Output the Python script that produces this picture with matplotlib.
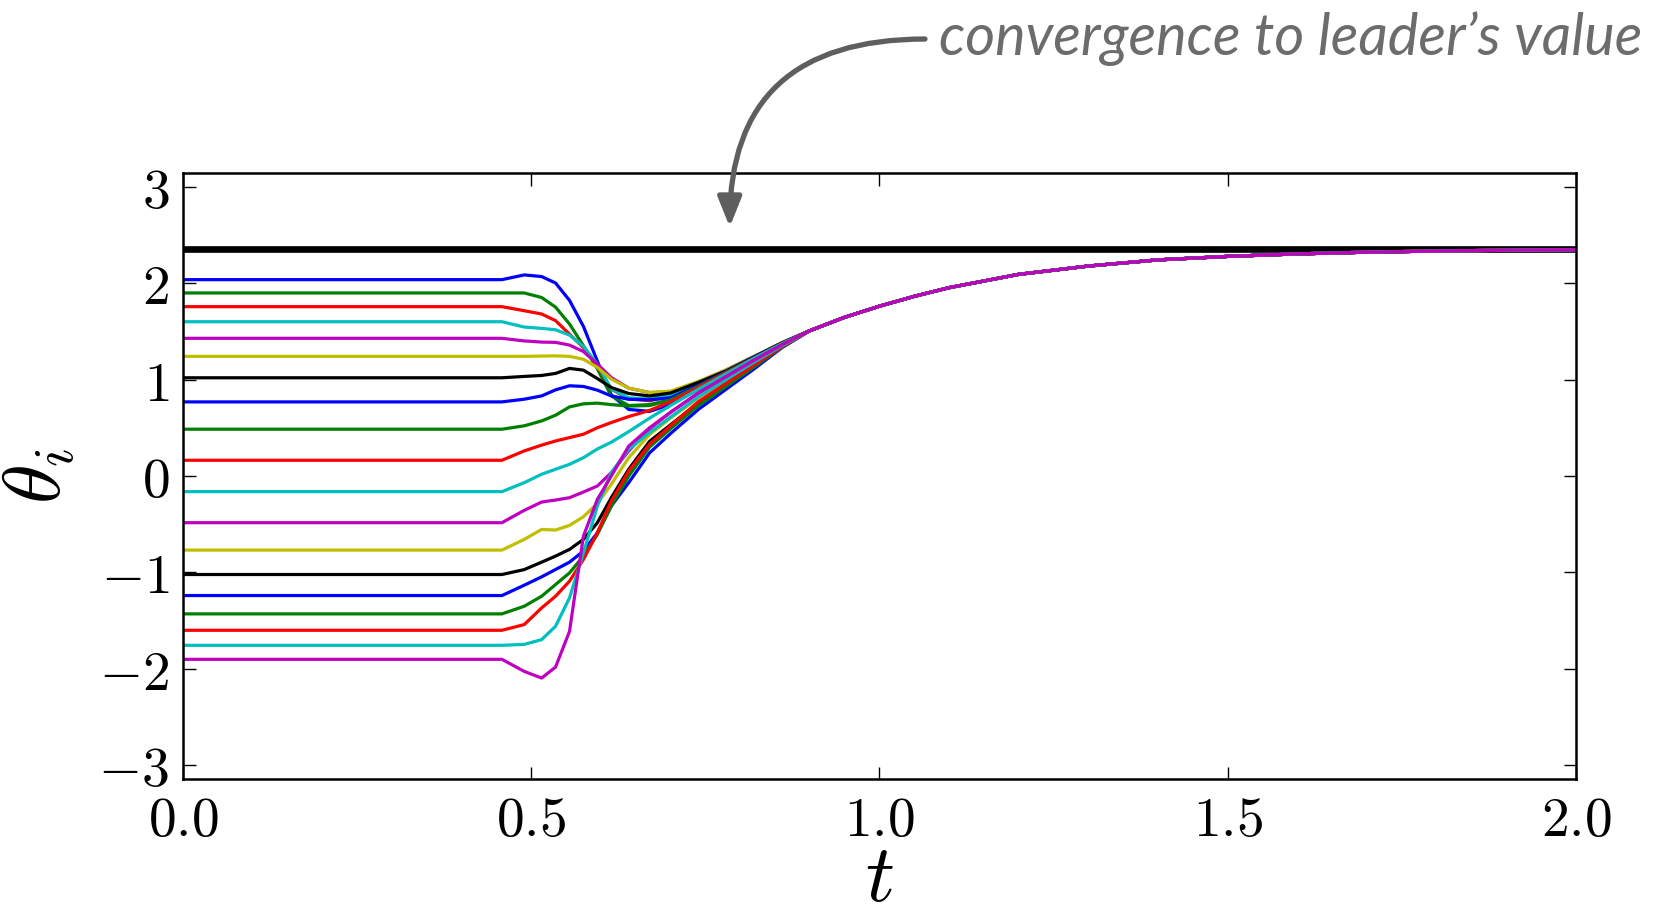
import numpy as np
import matplotlib
matplotlib.use("Agg")
import matplotlib.pyplot as plt

plt.rcParams['mathtext.fontset'] = 'cm'

# ---------------- data ----------------
leader_value = 2.356

# time samples of the transient part (per follower)
t_early = [0.0, 0.458, 0.49, 0.515, 0.535, 0.555, 0.575, 0.595, 0.615,
           0.64, 0.67, 0.70, 0.74, 0.78, 0.82, 0.86]
# time samples of the common tail after consensus
t_tail = [0.90, 0.95, 1.0, 1.05, 1.1, 1.2, 1.3, 1.4, 1.5, 1.6, 1.7, 1.8, 1.9, 2.0]
tail = [1.506, 1.645, 1.76, 1.862, 1.952, 2.09, 2.176, 2.24, 2.276, 2.302,
        2.32, 2.332, 2.34, 2.346]

f01 = [2.035, 2.035, 2.084, 2.067, 2.0, 1.82, 1.55, 1.19, 0.84, 0.69, 0.67, 0.74, 0.90, 1.06, 1.22, 1.37]
f02 = [1.897, 1.897, 1.897, 1.85, 1.75, 1.575, 1.35, 1.11, 0.83, 0.73, 0.74, 0.79, 0.93, 1.075, 1.225, 1.375]
f03 = [1.755, 1.755, 1.713, 1.679, 1.61, 1.47, 1.33, 1.142, 0.90, 0.80, 0.78, 0.83, 0.955, 1.085, 1.23, 1.38]
f04 = [1.599, 1.599, 1.544, 1.53, 1.516, 1.46, 1.343, 1.16, 0.90, 0.81, 0.80, 0.84, 0.96, 1.09, 1.23, 1.38]
f05 = [1.427, 1.427, 1.40, 1.388, 1.385, 1.357, 1.29, 1.16, 1.02, 0.91, 0.865, 0.87, 0.975, 1.10, 1.24, 1.38]
f06 = [1.240, 1.240, 1.240, 1.243, 1.245, 1.24, 1.21, 1.125, 1.004, 0.91, 0.865, 0.88, 0.98, 1.10, 1.24, 1.38]
f07 = [1.018, 1.018, 1.032, 1.042, 1.063, 1.115, 1.097, 1.01, 0.917, 0.855, 0.83, 0.86, 0.97, 1.09, 1.235, 1.38]
f08 = [0.768, 0.768, 0.796, 0.83, 0.893, 0.935, 0.928, 0.89, 0.83, 0.795, 0.79, 0.81, 0.94, 1.08, 1.23, 1.375]
f09 = [0.485, 0.485, 0.52, 0.571, 0.63, 0.716, 0.748, 0.755, 0.74, 0.725, 0.73, 0.79, 0.93, 1.075, 1.225, 1.375]
f10 = [0.163, 0.163, 0.26, 0.32, 0.363, 0.398, 0.433, 0.50, 0.554, 0.616, 0.68, 0.77, 0.92, 1.07, 1.22, 1.37]
f11 = [-0.162, -0.162, -0.069, 0.018, 0.07, 0.121, 0.19, 0.28, 0.35, 0.46, 0.60, 0.73, 0.90, 1.06, 1.22, 1.37]
f12 = [-0.484, -0.484, -0.356, -0.27, -0.249, -0.225, -0.166, -0.104, 0.035, 0.26, 0.49, 0.66, 0.86, 1.03, 1.20, 1.36]
f13 = [-0.768, -0.768, -0.657, -0.554, -0.56, -0.512, -0.422, -0.284, -0.086, 0.19, 0.43, 0.60, 0.81, 0.99, 1.17, 1.35]
f14 = [-1.021, -1.021, -0.97, -0.893, -0.83, -0.761, -0.657, -0.484, -0.225, 0.07, 0.36, 0.53, 0.76, 0.96, 1.15, 1.34]
f15 = [-1.239, -1.239, -1.132, -1.045, -0.969, -0.893, -0.778, -0.588, -0.311, -0.069, 0.24, 0.44, 0.69, 0.90, 1.11, 1.33]
f16 = [-1.429, -1.429, -1.35, -1.246, -1.125, -1.004, -0.83, -0.605, -0.311, 0.0, 0.30, 0.49, 0.73, 0.93, 1.13, 1.335]
f17 = [-1.599, -1.599, -1.54, -1.367, -1.246, -1.09, -0.865, -0.588, -0.26, 0.052, 0.33, 0.52, 0.77, 0.96, 1.15, 1.34]
f18 = [-1.755, -1.755, -1.745, -1.696, -1.557, -1.263, -0.796, -0.311, 0.035, 0.277, 0.45, 0.61, 0.82, 1.00, 1.18, 1.35]
f19 = [-1.900, -1.900, -2.025, -2.094, -1.98, -1.61, -0.623, -0.242, 0.0, 0.31, 0.50, 0.66, 0.86, 1.03, 1.20, 1.36]

followers = [f01, f02, f03, f04, f05, f06, f07, f08, f09, f10,
             f11, f12, f13, f14, f15, f16, f17, f18, f19]
colors = ['b', 'g', 'r', 'c', 'm', 'y', 'k']

xticks = [0.0, 0.5, 1.0, 1.5, 2.0]
xtick_labels = ['0.0', '0.5', '1.0', '1.5', '2.0']
yticks = [-3, -2, -1, 0, 1, 2, 3]
ytick_labels = ['-3', '-2', '-1', '0', '1', '2', '3']
annotation_text = 'convergence to leader\u2019s value'

# ---------------- figure ----------------
fig = plt.figure(figsize=(16.63, 9.16), dpi=100)
ax = fig.add_axes([0.110, 0.1496, 0.8377, 0.6615])

t_all = t_early + t_tail
ax.plot([0.0, 2.0], [leader_value, leader_value], color='k', lw=4.8,
        solid_capstyle='butt', zorder=1)
for i, f in enumerate(followers):
    ax.plot(t_all, f + tail, color=colors[i % len(colors)], lw=2.3,
            solid_joinstyle='round', zorder=2)

ax.set_xlim(0, 2)
ax.set_ylim(-3.14, 3.14)
ax.set_xticks(xticks)
ax.set_xticklabels(['$%s$' % s for s in xtick_labels], fontsize=40)
ax.set_yticks(yticks)
ax.set_yticklabels(['$%s$' % s for s in ytick_labels], fontsize=40)
ax.tick_params(direction='in', top=True, right=True, length=9, width=1.0)
ax.tick_params(axis='x', pad=11)
ax.tick_params(axis='y', pad=10)
for sp in ax.spines.values():
    sp.set_linewidth(1.8)

ax.set_xlabel(r'$t$', fontsize=58)
ax.set_ylabel(r'$\theta_i$', fontsize=58)
ax.xaxis.set_label_coords(0.5, -0.1)
ax.yaxis.set_label_coords(-0.076, 0.5)

fig.text(939 / 1663, 1 - 39 / 916, annotation_text, ha='left', va='center',
         fontsize=41.5, style='italic', family='Lato', fontweight='normal',
         color='#6c6c6c')
ax.annotate('', xy=(0.785, 2.58), xycoords='data',
            xytext=(925 / 1663, 1 - 39 / 916), textcoords='figure fraction',
            annotation_clip=False,
            arrowprops=dict(arrowstyle='-|>,head_length=0.9,head_width=0.36',
                            mutation_scale=20, lw=3.8, color='#5e5e5e',
                            shrinkA=0, shrinkB=0,
                            connectionstyle='angle3,angleA=0,angleB=90'))

fig.savefig('out.png', dpi=100)
